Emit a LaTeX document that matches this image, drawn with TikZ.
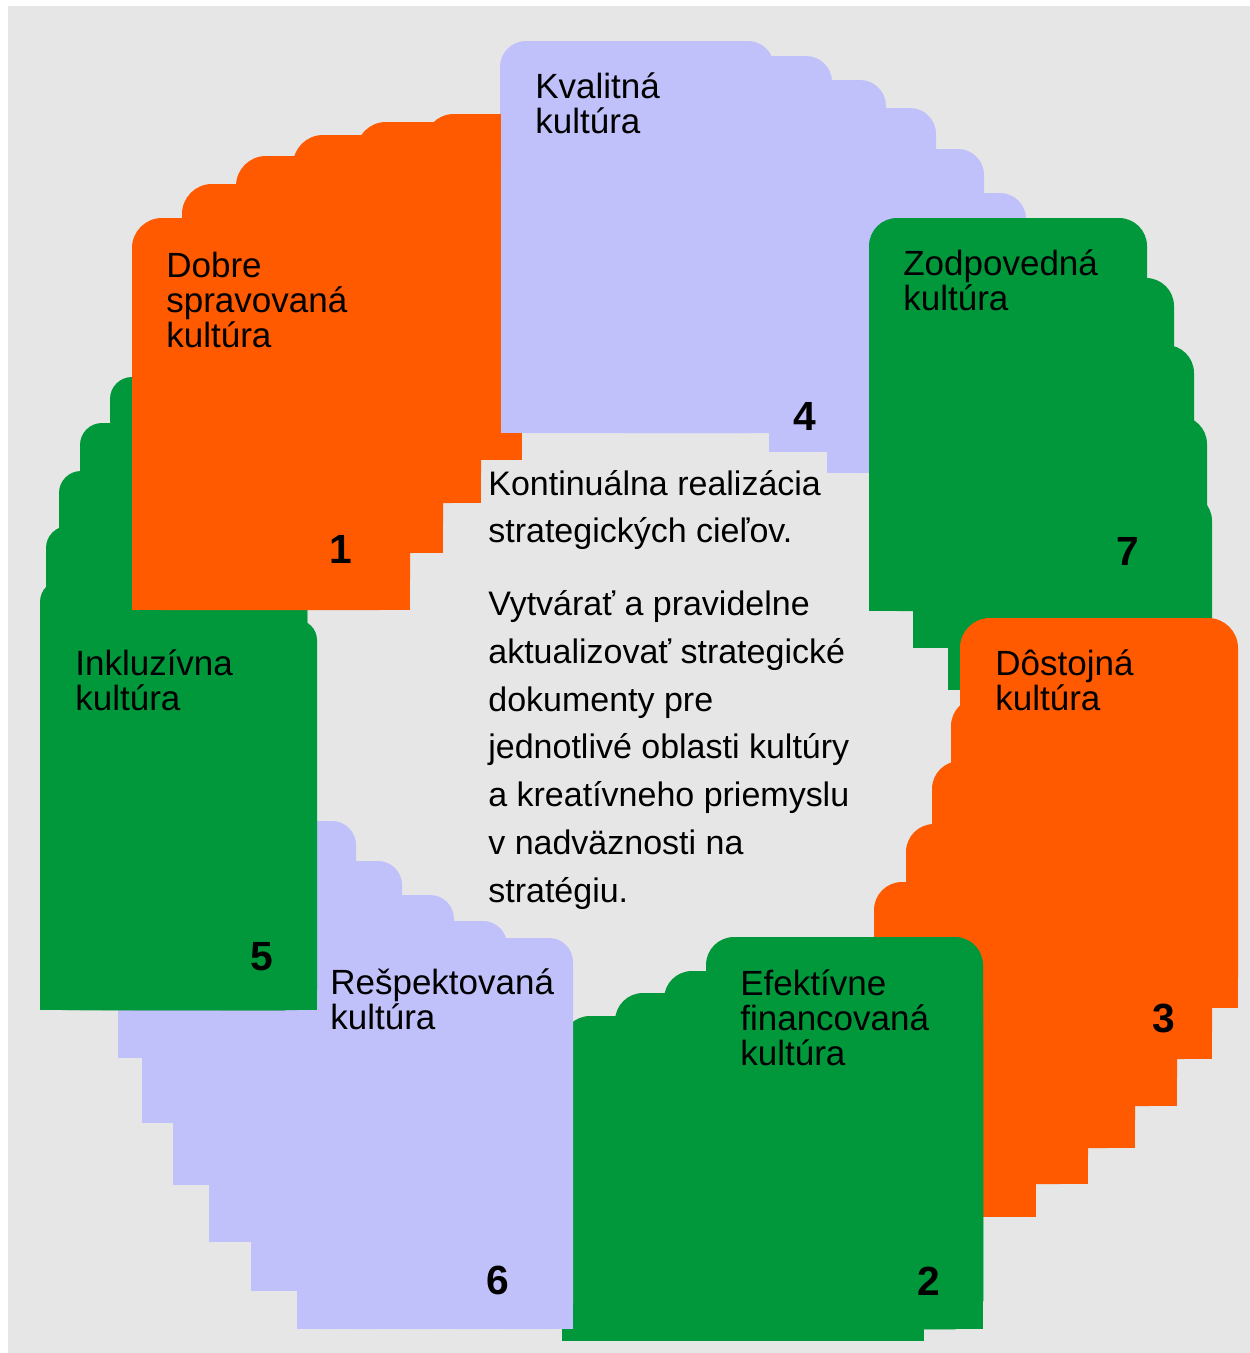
\documentclass[tikz,border=0pt]{standalone}
\usepackage{fontspec}
\setmainfont{Liberation Sans}
\definecolor{bgc}{HTML}{E6E6E6}
\definecolor{orng}{HTML}{FF5A00}
\definecolor{grn}{HTML}{00983A}
\definecolor{lav}{HTML}{C0C0FA}
\newcommand\setr[1]{\def\rr{#1}\pgfmathsetlengthmacro\rrlen{#1*0.02cm}}
\def\blobflags#1#2#3#4#5#6#7#8#9\relax{%
  \ifnum#6=0 \fill[#1] (#2,#3) rectangle (#2+\rr,#3+\rr);\fi
  \ifnum#7=0 \fill[#1] (#4-\rr,#3) rectangle (#4,#3+\rr);\fi
  \ifnum#8=0 \fill[#1] (#4-\rr,#5-\rr) rectangle (#4,#5);\fi
  \ifnum#9=0 \fill[#1] (#2,#5-\rr) rectangle (#2+\rr,#5);\fi}
\newcommand\blob[6]{%
  \fill[#1,rounded corners=\rrlen] (#2,#3) rectangle (#4,#5);
  \blobflags{#1}{#2}{#3}{#4}{#5}#6\relax}
\begin{document}
\begin{tikzpicture}[x=0.02cm,y=-0.02cm,
  lbl/.style={anchor=base west,inner sep=0pt,align=left,font=\fontsize{19.92pt}{19.92pt}\selectfont},
  num/.style={anchor=base,inner sep=0pt,font=\bfseries\fontsize{23.2pt}{23.2pt}\selectfont},
  ctr/.style={anchor=base west,inner sep=0pt,align=left,font=\fontsize{19.35pt}{27.14pt}\selectfont}]
\useasboundingbox (0,0) rectangle (1250,1353);
\fill[white] (0,0) rectangle (1250,1353);
\fill[bgc] (8,6) rectangle (1250,1353);
% 4 lavender (top)
\setr{26}
\blob{lav}{500}{41}{774}{433}{1100}
\blob{lav}{600}{56}{832}{433}{0100}
\blob{lav}{827}{80}{886}{473}{0100}
\blob{lav}{860}{108}{936}{473}{0100}
\blob{lav}{900}{149}{984}{473}{0100}
\blob{lav}{950}{193}{1026}{473}{0100}
\fill[lav] (769,420) rectangle (830,452);
% 7 green (right top)
\setr{28}
\blob{grn}{869}{218}{1147}{611}{1100}
\blob{grn}{1000}{278}{1174}{700}{0100}
\blob{grn}{1050}{345}{1194}{700}{0100}
\blob{grn}{1100}{416}{1207}{700}{0100}
\blob{grn}{1130}{493}{1212}{700}{0100}
\fill[grn] (913,500) rectangle (1100,648);
\fill[grn] (948,500) rectangle (1100,690);
% 3 orange (right)
\setr{30}
\blob{orng}{960}{618}{1238}{1008}{1100}
\setr{28}
\blob{orng}{951}{698}{1212}{1059}{1000}
\blob{orng}{932}{761}{1177}{1106}{1000}
\blob{orng}{906}{824}{1135}{1148}{1000}
\blob{orng}{874}{882}{1088}{1184}{1000}
\fill[orng] (874,950) rectangle (1036,1217);
% 2 green (bottom right)
\setr{28}
\blob{grn}{706}{937}{983}{1329}{1100}
\blob{grn}{664}{971}{983}{1329}{1000}
\blob{grn}{615}{993}{983}{1329}{1000}
\blob{grn}{562}{1016}{983}{1329}{1000}
\fill[grn] (562,1100) rectangle (924,1341);
% 6 lavender (bottom left)
\setr{24}
\blob{lav}{297}{821}{356}{1329}{0100}
\blob{lav}{330}{861}{402}{1329}{0100}
\blob{lav}{380}{895}{454}{1329}{0100}
\blob{lav}{430}{921}{507}{1329}{0100}
\blob{lav}{480}{938}{573}{1329}{0100}
\fill[lav] (118,990) rectangle (300,1058);
\fill[lav] (142,990) rectangle (300,1123);
\fill[lav] (173,990) rectangle (300,1185);
\fill[lav] (209,990) rectangle (300,1242);
\fill[lav] (251,990) rectangle (300,1291);
% 5 green (left)
\setr{22}
\blob{grn}{110}{377}{307}{1010}{1000}
\blob{grn}{80}{423}{307}{1010}{1000}
\blob{grn}{59}{471}{307}{1010}{1000}
\blob{grn}{46}{526}{307}{1010}{1000}
\blob{grn}{40}{580}{307}{1010}{1000}
\setr{20}
\blob{grn}{200}{620}{317}{1010}{0100}
% 1 orange (top left)
\setr{30}
\blob{orng}{132}{218}{410}{610}{1000}
\blob{orng}{182}{184}{443}{553}{1000}
\blob{orng}{236}{156}{481}{503}{1000}
\blob{orng}{293}{135}{500.5}{460}{1000}
\blob{orng}{356}{122}{500.5}{460}{1000}
\blob{orng}{424}{114}{500.5}{460}{1000}
\fill[orng] (400,433) rectangle (522,460);
% labels (anchored at the baseline of the last line)
\node[lbl] (t1) at (166,347) {Dobre\\spravovaná\\kultúra};
\node[lbl] (t4) at (535,133) {Kvalitná\\kultúra};
\node[lbl] (t7) at (903,310) {Zodpovedná\\kultúra};
\node[lbl] (t3) at (995,710) {Dôstojná\\kultúra};
\node[lbl] (t5) at (75,710) {Inkluzívna\\kultúra};
\node[lbl] (t6) at (330,1029) {Rešpektovaná\\kultúra};
\node[lbl] (t2) at (740,1065) {Efektívne\\financovaná\\kultúra};
\node[ctr] (c) at (488,902) {Kontinuálna realizácia\\strategických cieľov.\\[14.4pt]Vytvárať a pravidelne\\aktualizovať strategické\\dokumenty pre\\jednotlivé oblasti kultúry\\a kreatívneho priemyslu\\v nadväznosti na\\stratégiu.};
% numbers
\node[num] (n1) at (341,563) {1};
\node[num] (n4) at (805,430) {4};
\node[num] (n7) at (1128,565) {7};
\node[num] (n3) at (1164,1032) {3};
\node[num] (n2) at (929,1295) {2};
\node[num] (n5) at (262,970) {5};
\node[num] (n6) at (498,1294) {6};
\end{tikzpicture}
\end{document}
